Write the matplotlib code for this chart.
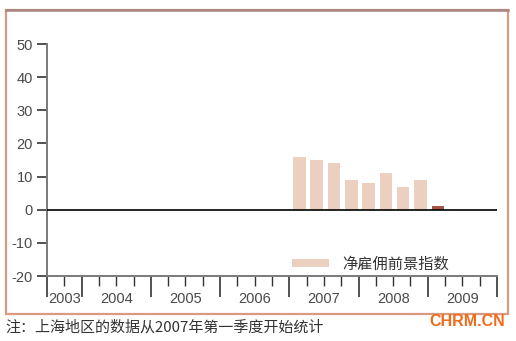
import matplotlib
matplotlib.use("Agg")
import matplotlib.pyplot as plt
from matplotlib.patches import Rectangle, Patch
from matplotlib.lines import Line2D
from matplotlib.ticker import FixedLocator, NullFormatter

# ---- data ----
quarters = ["2007Q1", "2007Q2", "2007Q3", "2007Q4",
            "2008Q1", "2008Q2", "2008Q3", "2008Q4", "2009Q1"]
values = [16, 15, 14, 9, 8, 11, 7, 9, 1]
years = [2003, 2004, 2005, 2006, 2007, 2008, 2009]
yticks = [-20, -10, 0, 10, 20, 30, 40, 50]
legend_label = "净雇佣前景指数"
note_text = "注：上海地区的数据从2007年第一季度开始统计"
brand_text = "CHRM.CN"

bar_color = "#EBD0BF"
last_color = "#A5544C"
axis_color = "#7a7a7a"
text_color = "#4a4a4a"
cjk = ["Noto Sans CJK SC", "DejaVu Sans"]
latin = ["Liberation Sans", "DejaVu Sans"]

W, H = 516, 341
fig = plt.figure(figsize=(W / 100, H / 100), dpi=100)
fig.patch.set_facecolor("white")

# outer frame
fig.patches.append(Rectangle((6 / W, (H - 314) / H), 502 / W, 304 / H,
                             transform=fig.transFigure, fill=False,
                             edgecolor="#DA9A80", linewidth=1.6))
fig.lines.append(Line2D([6 / W, 508 / W], [(H - 10) / H, (H - 10) / H],
                        transform=fig.transFigure, color="#A88580",
                        linewidth=1.8))

ax = fig.add_axes([47 / W, (H - 276) / H, 450 / W, 232 / H])
ax.set_xlim(2003.5, 2010)
ax.set_ylim(-20, 50)

# bars
xpos = [int(q[:4]) + (int(q[-1]) - 1) * 0.25 + 0.055 for q in quarters]
colors = [bar_color] * (len(values) - 1) + [last_color]
ax.bar(xpos, values, width=0.18, align="edge", color=colors, linewidth=0)

# zero line
ax.axhline(0, color="black", linewidth=1.2, zorder=3)

# spines
for s in ["top", "right"]:
    ax.spines[s].set_visible(False)
for s in ["left", "bottom"]:
    ax.spines[s].set_color(axis_color)
    ax.spines[s].set_linewidth(1.4)

# y ticks
ax.set_yticks(yticks)
ax.set_yticklabels([str(v) for v in yticks], fontfamily=latin)
ax.tick_params(axis="y", direction="out", length=7, width=1.2,
               color="#333333", labelsize=10.5, labelcolor=text_color, pad=3)

# x ticks: year boundaries (major) + quarters (minor)
major = [2003.5] + [y + 1 for y in years]
minor = [2003.75] + [y + q * 0.25 for y in years[1:] for q in (1, 2, 3)]
ax.xaxis.set_major_locator(FixedLocator(major))
ax.xaxis.set_minor_locator(FixedLocator(minor))
ax.xaxis.set_major_formatter(NullFormatter())
ax.tick_params(axis="x", which="major", direction="out", length=15,
               width=1.2, color="#333333")
ax.tick_params(axis="x", which="minor", direction="out", length=7,
               width=1.0, color="#333333")

# year labels centered in each year
for y in years:
    lo = max(y, 2003.5)
    cx = (lo + y + 1) / 2
    ax.text(cx, -0.098, str(y), transform=ax.get_xaxis_transform(),
            ha="center", va="center", fontsize=10.5, color=text_color,
            fontfamily=latin)

# legend
handle = Patch(facecolor=bar_color, edgecolor="none", label=legend_label)
leg = ax.legend(handles=[handle], loc="center left",
                bbox_to_anchor=(292 / W, (H - 264) / H),
                bbox_transform=fig.transFigure, frameon=False,
                prop={"family": cjk, "size": 11}, handlelength=2.4,
                handleheight=0.4, handletextpad=0.9, borderpad=0,
                borderaxespad=0)
for t in leg.get_texts():
    t.set_color("#333333")

# note and brand
fig.text(5 / W, (H - 327) / H, note_text, ha="left", va="center",
         fontsize=10.8, color="#333333", fontfamily=cjk)
fig.text(505 / W, (H - 322) / H, brand_text, ha="right", va="center",
         fontsize=11.5, color="#F26A1B", fontweight="bold", fontfamily=latin)

fig.savefig("out.png", dpi=100)
